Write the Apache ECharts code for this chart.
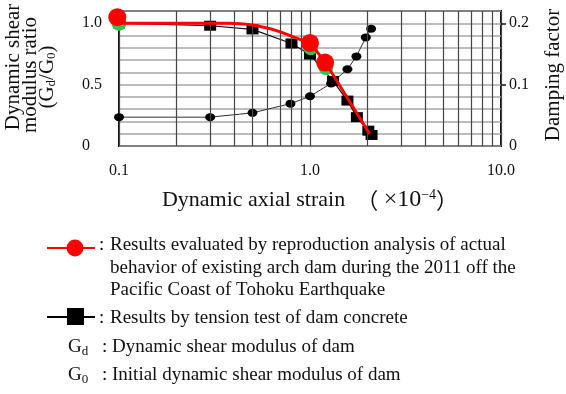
<!DOCTYPE html>
<html>
<head>
<meta charset="utf-8">
<script src="https://cdn.jsdelivr.net/npm/echarts@6/dist/echarts.min.js"></script>
<style>
  html, body { margin: 0; padding: 0; background: #fff; }
  #chart { width: 566px; height: 394px; }
</style>
</head>
<body>
<div id="chart"></div>
<script>
// Tension test of dam concrete: strain (x1e-4) vs shear modulus ratio Gd/G0
const squareStrain = [0.1, 0.3, 0.5, 0.8, 1.0, 1.32, 1.57, 1.76, 2.02, 2.1];
const squareRatio  = [1.0, 0.98, 0.95, 0.835, 0.745, 0.53, 0.37, 0.235, 0.125, 0.09];

// Damping factor measured in the same test (right axis)
const dampStrain = [0.1, 0.3, 0.5, 0.79, 1.0, 1.29, 1.57, 1.75, 1.96, 2.09];
const dampValue  = [0.047, 0.047, 0.054, 0.069, 0.081, 0.102, 0.125, 0.146, 0.177, 0.191];

// Reproduction analysis of the arch dam (2011 Tohoku earthquake)
const curveStrain = [0.1, 0.38, 0.45, 0.52, 0.62, 0.7, 0.8, 0.9, 1.0, 1.2, 2.05];
const curveRatio  = [1.0, 1.0, 0.995, 0.982, 0.955, 0.93, 0.895, 0.865, 0.84, 0.685, 0.1];
const evalStrain  = [0.098, 1.0, 1.2];
const evalRatio   = [1.05, 0.84, 0.68];
const shadeStrain = [0.1, 1.01, 1.21];
const shadeRatio  = [1.0, 0.8, 0.64];

// Axis ticks and labels
const xTickValues = [0.1, 1, 10];
const xTickLabels = ['0.1', '1.0', '10.0'];
const xMinorGrid  = [0.2, 0.3, 0.4, 0.5, 0.6, 0.7, 0.8, 0.9, 2, 3, 4, 5, 6, 7, 8, 9];
const yLeftValues = [0, 0.5, 1.0];
const yLeftLabels = ['0', '0.5', '1.0'];
const yRightValues = [0, 0.1, 0.2];
const yRightLabels = ['0', '0.1', '0.2'];

// Legend / notes text
const legendRedLines = [
  'Results evaluated by reproduction analysis of actual',
  'behavior of existing arch dam during the 2011 off the',
  'Pacific Coast of Tohoku Earthquake'
];
const legendBlack = 'Results by tension test of dam concrete';
const noteGd = 'Dynamic shear modulus of dam';
const noteG0 = 'Initial dynamic shear modulus of dam';

const FONT = "'Liberation Serif', 'DejaVu Serif', serif";
const CJK = "'Noto Sans CJK JP', 'Liberation Serif', serif";
const pairs = (xs, ys) => xs.map((x, i) => [x, ys[i]]);
const pick = (vals, labels) => v => {
  for (let i = 0; i < vals.length; i++) if (Math.abs(v - vals[i]) < 1e-6 * Math.max(1, vals[i])) return labels[i];
  return '';
};

const chart = echarts.init(document.getElementById('chart'), null, { renderer: 'canvas' });

const subRich = {
  sub: { fontFamily: FONT, fontSize: 13, color: '#111', verticalAlign: 'bottom', padding: [10, 0, 0, 0] }
};

const legendGraphics = [];
// red entry
legendGraphics.push({ type: 'line', shape: { x1: 47, y1: 248, x2: 95, y2: 248 }, style: { stroke: '#ff0000', lineWidth: 2 } });
legendGraphics.push({ type: 'circle', shape: { cx: 75, cy: 248, r: 8.5 }, style: { fill: '#ff0000' } });
// black entry
legendGraphics.push({ type: 'line', shape: { x1: 47, y1: 317, x2: 95, y2: 317 }, style: { stroke: '#000', lineWidth: 2 } });
legendGraphics.push({ type: 'rect', shape: { x: 67, y: 308, width: 17, height: 17 }, style: { fill: '#000' } });

const LFONT = '19px ' + FONT;
const textRows = [
  { x: 110, y: 245, t: legendRedLines[0], colon: 99 },
  { x: 110, y: 268, t: legendRedLines[1] },
  { x: 110, y: 290, t: legendRedLines[2] },
  { x: 110, y: 318, t: legendBlack, colon: 99 },
  { x: 112, y: 347, t: noteGd, colon: 102, g: 'd' },
  { x: 112, y: 375, t: noteG0, colon: 102, g: '0' }
];
textRows.forEach(r => {
  legendGraphics.push({ type: 'text', style: { x: r.x, y: r.y, text: r.t, font: LFONT, fill: '#111', verticalAlign: 'middle' } });
  if (r.colon) legendGraphics.push({ type: 'text', style: { x: r.colon, y: r.y, text: ':', font: LFONT, fill: '#111', verticalAlign: 'middle' } });
  if (r.g) legendGraphics.push({ type: 'text', style: { x: 68, y: r.y, text: 'G{sub|' + r.g + '}', font: LFONT, fill: '#111', verticalAlign: 'middle', rich: subRich } });
});

const TFONT = '21px ' + FONT;
const axisTitleGraphics = [
  { type: 'text', x: 13, y: 67, rotation: Math.PI / 2, style: { x: 0, y: 0, text: 'Dynamic shear', font: TFONT, fill: '#111', align: 'center', verticalAlign: 'middle' } },
  { type: 'text', x: 30, y: 75, rotation: Math.PI / 2, style: { x: 0, y: 0, text: 'modulus ratio', font: TFONT, fill: '#111', align: 'center', verticalAlign: 'middle' } },
  { type: 'text', x: 47, y: 77, rotation: Math.PI / 2, style: { x: 0, y: 0, text: '(G{sub|d}/G{sub|0})', font: TFONT, fill: '#111', align: 'center', verticalAlign: 'middle', rich: subRich } },
  { type: 'text', x: 553, y: 75, rotation: Math.PI / 2, style: { x: 0, y: 0, text: 'Damping factor', font: TFONT, fill: '#111', align: 'center', verticalAlign: 'middle' } }
];

const option = {
  animation: false,
  backgroundColor: '#fff',
  grid: { left: 119, right: 65, top: 11, bottom: 248, show: true, borderColor: '#111', borderWidth: 2, backgroundColor: 'transparent' },
  xAxis: {
    type: 'log', logBase: 10, min: 0.1, max: 10,
    axisLine: { show: false },
    axisTick: { show: false },
    splitLine: { show: true, lineStyle: { color: '#444', width: 1.2 } },
    axisLabel: { fontFamily: FONT, fontSize: 16, color: '#111', margin: 17, formatter: pick(xTickValues, xTickLabels) },
    name: 'Dynamic axial strain  {p|（} {m|×10}{sup|−4}{p|）}',
    nameLocation: 'middle', nameGap: 42,
    nameTextStyle: {
      fontFamily: FONT, fontSize: 22, color: '#111',
      rich: {
        sup: { fontFamily: FONT, fontSize: 14, color: '#111', verticalAlign: 'top', padding: [0, 0, 10, 0] },
        m: { fontFamily: FONT, fontSize: 24, color: '#111' },
        p: { fontFamily: CJK, fontSize: 22, color: '#111' }
      }
    }
  },
  yAxis: [
    {
      type: 'value', min: 0, max: 1.1, interval: 0.1,
      axisLine: { show: false },
      axisTick: { show: false },
      splitLine: { show: true, lineStyle: { color: '#a6a6a6', width: 1.6 } },
      axisLabel: { fontFamily: FONT, fontSize: 16, color: '#111', margin: 37, align: 'left', customValues: yLeftValues, formatter: pick(yLeftValues, yLeftLabels) }
    },
    {
      type: 'value', min: 0, max: 0.22, position: 'right',
      axisLine: { show: false },
      axisTick: { show: true, inside: false, length: 5, lineStyle: { color: '#111', width: 1.5 }, customValues: [0.1, 0.2] },
      splitLine: { show: false },
      axisLabel: { fontFamily: FONT, fontSize: 16, color: '#111', margin: 8, customValues: yRightValues, formatter: pick(yRightValues, yRightLabels) }
    }
  ],
  series: [
    {
      // log-decade minor grid lines
      type: 'line', data: [], silent: true, z: 1,
      markLine: {
        silent: true, symbol: 'none', label: { show: false },
        lineStyle: { color: '#444', width: 1.2, type: 'solid' },
        data: xMinorGrid.map(v => ({ xAxis: v }))
      }
    },
    {
      name: 'damping', type: 'line', yAxisIndex: 1, z: 3,
      data: pairs(dampStrain, dampValue),
      lineStyle: { color: '#333', width: 1 },
      symbol: 'circle', symbolSize: [10, 8],
      itemStyle: { color: '#000' }
    },
    {
      name: 'tension', type: 'line', z: 4,
      data: pairs(squareStrain, squareRatio),
      lineStyle: { color: '#111', width: 1.2 },
      symbol: 'rect', symbolSize: [12, 10],
      itemStyle: { color: '#000' }
    },
    {
      name: 'shade', type: 'scatter', z: 5, clip: false,
      data: pairs(shadeStrain, shadeRatio),
      symbol: 'circle', symbolSize: 15,
      itemStyle: { color: '#2fc450', opacity: 1 }
    },
    {
      name: 'analysis curve', type: 'line', z: 6,
      data: pairs(curveStrain, curveRatio),
      smooth: false,
      showSymbol: false, symbol: 'none',
      lineStyle: { color: '#ff0000', width: 3 }
    },
    {
      name: 'analysis', type: 'scatter', z: 7, clip: false,
      data: pairs(evalStrain, evalRatio),
      symbol: 'circle', symbolSize: 18,
      itemStyle: { color: '#ff0000', opacity: 1 }
    }
  ],
  graphic: axisTitleGraphics.concat(legendGraphics)
};

chart.setOption(option);
</script>
</body>
</html>
